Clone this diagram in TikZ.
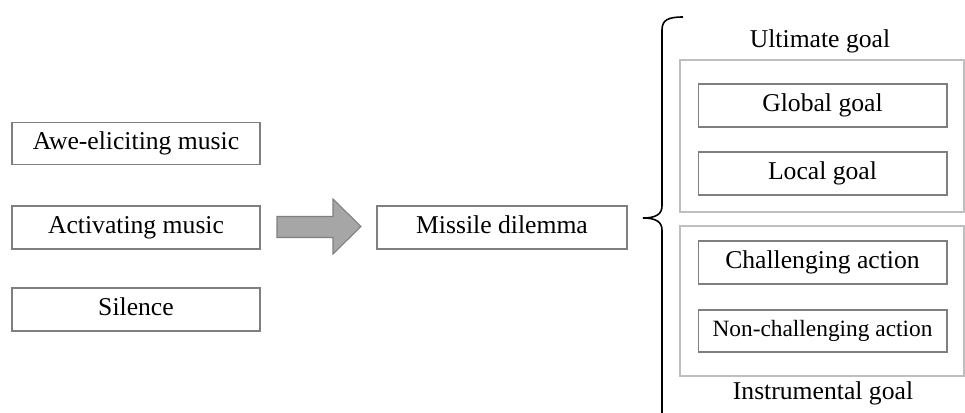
\documentclass[tikz,border=0pt]{standalone}
\usepackage{fontspec}
\setmainfont{Liberation Serif}
\usepackage{xcolor}
\usepackage{tikz}
\usetikzlibrary{positioning}

\definecolor{boxgray}{HTML}{7F7F7F}
\definecolor{framegray}{HTML}{BFBFBF}
\definecolor{arrowgray}{HTML}{A6A6A6}

\begin{document}
\begin{tikzpicture}[x=0.02cm, y=-0.02cm, font=\fontsize{14.6}{17}\selectfont,
    text height=0.66em, text depth=0pt,
    box/.style={draw=boxgray, line width=0.6pt, inner sep=0pt},
    frame/.style={draw=framegray, line width=0.7pt, inner sep=0pt}]
      \useasboundingbox (0,0) rectangle (965,413);

      \node[box, minimum width=4.96cm, minimum height=0.84cm]  (AM)  at (136, 143.5)   {Awe-eliciting music};
      \node[box, minimum width=4.96cm, minimum height=0.86cm]  (AC)  at (136, 227.5)   {Activating music};
      \node[box, minimum width=4.96cm, minimum height=0.86cm]  (S)   at (136, 309.5)   {Silence};

      \node[box, minimum width=5.00cm, minimum height=0.86cm]  (MD)  at (502, 227.5)   {Missile dilemma};

      \node[frame, minimum width=5.68cm, minimum height=3.04cm] (UF)  at (822, 136)     {};
      \node[frame, minimum width=5.68cm, minimum height=3.00cm] (IF)  at (822, 301)     {};

      \node                                                     (UG)  at (820, 41.5)    {Ultimate goal};
      \node                                                     (IG)  at (823, 394)     {Instrumental goal};

      \node[box, minimum width=4.98cm, minimum height=0.86cm]  (GG)  at (822.5, 105.5) {Global goal};
      \node[box, minimum width=4.98cm, minimum height=0.86cm]  (LG)  at (822.5, 173.5) {Local goal};
      \node[box, minimum width=4.98cm, minimum height=0.86cm]  (CA)  at (822.5, 262.5) {Challenging action};
      \node[box, minimum width=4.98cm, minimum height=0.84cm, font=\fontsize{13.3}{16}\selectfont]
                                                               (NA)  at (822.5, 331)   {Non-challenging action};

      % block arrow
      \draw[draw=boxgray, fill=arrowgray, line width=0.6pt]
        (277, 216.5) -- (333, 216.5) -- (333, 199) -- (361, 226.5) -- (333, 254)
        -- (333, 237.5) -- (277, 237.5) -- cycle;

      % brace
      \draw[line width=0.9pt]
        (683, 17) .. controls (668, 17) and (662, 20) .. (662, 30) -- (662, 206)
        .. controls (662, 214) and (656, 218) .. (643, 218);
      \draw[line width=0.9pt]
        (643, 218) .. controls (656, 218) and (662, 222) .. (662, 230) -- (662, 413);
    \end{tikzpicture}
\end{document}
